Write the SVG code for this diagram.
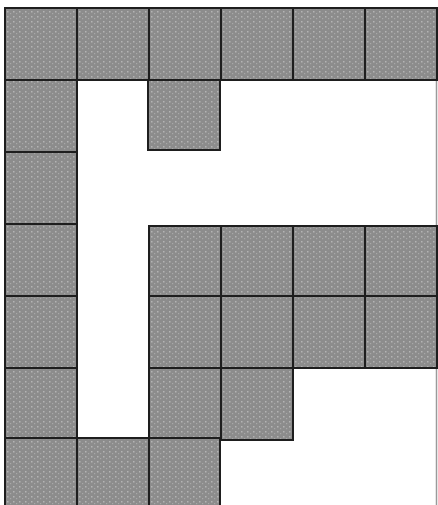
<svg xmlns="http://www.w3.org/2000/svg" width="438" height="505" viewBox="0 0 438 505">
<defs>
<pattern id="tex" width="6" height="5" patternUnits="userSpaceOnUse">
<rect width="6" height="5" fill="#8c8c8c"/>
<rect x="1" y="1" width="1.5" height="1.5" fill="#b4b4b4"/>
<rect x="4" y="3" width="1.2" height="1.2" fill="#a8a8a8"/>
</pattern>
<style>
.c{fill:url(#tex);stroke:#1e1e1e;stroke-width:2}
</style>
</defs>
<rect width="438" height="505" fill="#ffffff"/>
<line x1="436.5" y1="80" x2="436.5" y2="505" stroke="#9a9a9a" stroke-width="1.5"/>
<g id="r0">
<rect class="c" x="5" y="8" width="72" height="72"/>
<rect class="c" x="77" y="8" width="72" height="72"/>
<rect class="c" x="149" y="8" width="72" height="72"/>
<rect class="c" x="221" y="8" width="72" height="72"/>
<rect class="c" x="293" y="8" width="72" height="72"/>
<rect class="c" x="365" y="8" width="72" height="72"/>
</g>
<g id="r1">
<rect class="c" x="5" y="80" width="72" height="72"/>
<rect class="c" x="148" y="80" width="72" height="70"/>
</g>
<g id="r2">
<rect class="c" x="5" y="152" width="72" height="72"/>
</g>
<g id="r3">
<rect class="c" x="5" y="224" width="72" height="72"/>
<rect class="c" x="149" y="226" width="72" height="70"/>
<rect class="c" x="221" y="226" width="72" height="70"/>
<rect class="c" x="293" y="226" width="72" height="70"/>
<rect class="c" x="365" y="226" width="72" height="70"/>
</g>
<g id="r4">
<rect class="c" x="5" y="296" width="72" height="72"/>
<rect class="c" x="149" y="296" width="72" height="72"/>
<rect class="c" x="221" y="296" width="72" height="72"/>
<rect class="c" x="293" y="296" width="72" height="72"/>
<rect class="c" x="365" y="296" width="72" height="72"/>
</g>
<g id="r5">
<rect class="c" x="5" y="368" width="72" height="70"/>
<rect class="c" x="149" y="368" width="72" height="70"/>
<rect class="c" x="221" y="368" width="72" height="72"/>
</g>
<g id="r6">
<rect class="c" x="5" y="438" width="72" height="72"/>
<rect class="c" x="77" y="438" width="72" height="72"/>
<rect class="c" x="149" y="438" width="71" height="72"/>
</g>
<g id="connectors"/>
</svg>
